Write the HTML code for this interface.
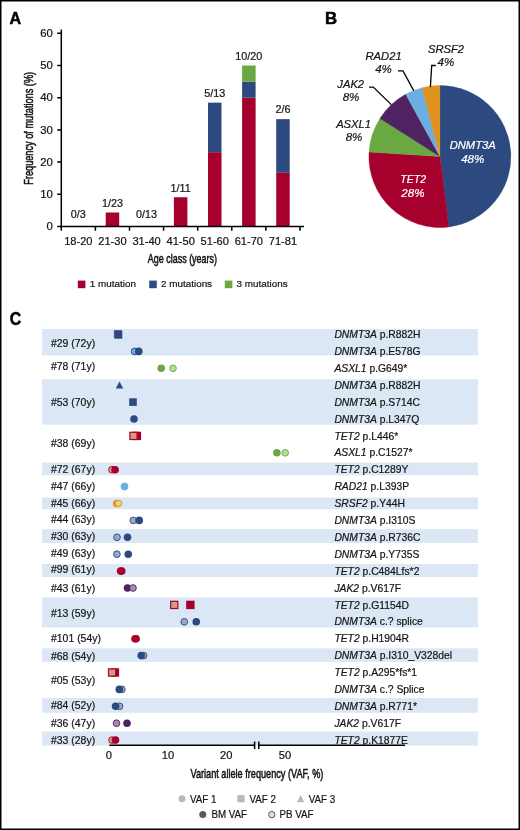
<!DOCTYPE html>
<html lang="en"><head><meta charset="utf-8"><title>Figure</title>
<style>
html,body{margin:0;padding:0;background:#fff;}
body{width:520px;height:830px;overflow:hidden;}
svg{display:block;font-family:"Liberation Sans",Arial,Helvetica,sans-serif;}
text{fill:#151515;stroke:#151515;stroke-width:0.2px;}
.pl{font-size:16.8px;font-weight:bold;fill:#000;stroke:#000;stroke-width:0.5px;}
.t{font-size:10px;}
.s{font-size:9.7px;}
.m{font-size:10px;}
.b{font-size:10.2px;}
.n{font-size:13px;stroke-width:0.55px;}
.c{text-anchor:middle;}
.e{text-anchor:end;}
.i{font-style:italic;}
.w{fill:#fff;stroke:#fff;}
.pie{font-size:10.5px;font-style:italic;text-anchor:middle;}
.ax{stroke:#000;stroke-width:1.5;fill:none;}
.ld{stroke:#000;stroke-width:1.3;fill:none;}
</style></head><body>
<svg width="520" height="830" viewBox="0 0 520 830">
<rect x="0" y="0" width="520" height="830" fill="#fff"/>

<text class="pl" transform="translate(9.60 23.50) scale(0.96 1)">A</text>
<rect x="105.70" y="212.49" width="13.5" height="14.01" fill="#a6002c"/>
<rect x="173.90" y="197.23" width="13.5" height="29.27" fill="#a6002c"/>
<rect x="208.00" y="152.18" width="13.5" height="74.32" fill="#a6002c"/>
<rect x="208.00" y="102.66" width="13.5" height="49.52" fill="#2c4a80"/>
<rect x="242.10" y="97.70" width="13.5" height="128.80" fill="#a6002c"/>
<rect x="242.10" y="81.60" width="13.5" height="16.10" fill="#2c4a80"/>
<rect x="242.10" y="65.50" width="13.5" height="16.10" fill="#6aa842"/>
<rect x="276.20" y="172.82" width="13.5" height="53.68" fill="#a6002c"/>
<rect x="276.20" y="119.15" width="13.5" height="53.68" fill="#2c4a80"/>
<path class="ax" d="M61.3 29.4V226.5H304"/>
<path class="ax" d="M57.2 226.50H61.3M57.2 194.30H61.3M57.2 162.10H61.3M57.2 129.90H61.3M57.2 97.70H61.3M57.2 65.50H61.3M57.2 33.30H61.3M61.30 226.5V230.8M95.40 226.5V230.8M129.50 226.5V230.8M163.60 226.5V230.8M197.70 226.5V230.8M231.80 226.5V230.8M265.90 226.5V230.8M300.00 226.5V230.8"/>
<text class="t e" transform="translate(52.90 230.10) scale(1.14 1)">0</text>
<text class="t e" transform="translate(52.90 197.90) scale(1.14 1)">10</text>
<text class="t e" transform="translate(52.90 165.70) scale(1.14 1)">20</text>
<text class="t e" transform="translate(52.90 133.50) scale(1.14 1)">30</text>
<text class="t e" transform="translate(52.90 101.30) scale(1.14 1)">40</text>
<text class="t e" transform="translate(52.90 69.10) scale(1.14 1)">50</text>
<text class="t e" transform="translate(52.90 36.90) scale(1.14 1)">60</text>
<text class="t c" transform="translate(78.35 245.00) scale(1.11 1)">18-20</text>
<text class="t c" transform="translate(112.45 245.00) scale(1.11 1)">21-30</text>
<text class="t c" transform="translate(146.55 245.00) scale(1.11 1)">31-40</text>
<text class="t c" transform="translate(180.65 245.00) scale(1.11 1)">41-50</text>
<text class="t c" transform="translate(214.75 245.00) scale(1.11 1)">51-60</text>
<text class="t c" transform="translate(248.85 245.00) scale(1.11 1)">61-70</text>
<text class="t c" transform="translate(282.95 245.00) scale(1.11 1)">71-81</text>
<text class="t c" transform="translate(78.35 218.00) scale(1.08 1)">0/3</text>
<text class="t c" transform="translate(112.45 207.20) scale(1.08 1)">1/23</text>
<text class="t c" transform="translate(146.55 218.00) scale(1.08 1)">0/13</text>
<text class="t c" transform="translate(180.65 192.20) scale(1.08 1)">1/11</text>
<text class="t c" transform="translate(214.75 96.90) scale(1.08 1)">5/13</text>
<text class="t c" transform="translate(248.85 60.00) scale(1.08 1)">10/20</text>
<text class="t c" transform="translate(282.95 113.20) scale(1.08 1)">2/6</text>
<text class="n c" transform="translate(33.10 128.30) rotate(-90) scale(0.708 1)">Frequency of mutations (%)</text>
<text class="n c" transform="translate(182.40 262.60) scale(0.69 1)">Age class (years)</text>
<rect x="77.8" y="280.6" width="7.6" height="7.6" fill="#a6002c"/>
<text class="s" transform="translate(89.80 287.30) scale(1.02 1)">1 mutation</text>
<rect x="149.2" y="280.6" width="7.6" height="7.6" fill="#2c4a80"/>
<text class="s" transform="translate(161.00 287.30) scale(1.02 1)">2 mutations</text>
<rect x="224.8" y="280.6" width="7.6" height="7.6" fill="#6aa842"/>
<text class="s" transform="translate(236.60 287.30) scale(1.02 1)">3 mutations</text>
<text class="pl" transform="translate(324.90 23.50)">B</text>
<path d="M439.9 156.5L439.90 85.50A71.0 71.0 0 0 1 448.80 226.94Z" fill="#2c4a80" stroke="#2c4a80" stroke-width="0.4"/>
<path d="M439.9 156.5L448.80 226.94A71.0 71.0 0 0 1 369.04 152.04Z" fill="#a6002c" stroke="#a6002c" stroke-width="0.4"/>
<path d="M439.9 156.5L369.04 152.04A71.0 71.0 0 0 1 379.95 118.46Z" fill="#6aa842" stroke="#6aa842" stroke-width="0.4"/>
<path d="M439.9 156.5L379.95 118.46A71.0 71.0 0 0 1 405.70 94.28Z" fill="#4f2261" stroke="#4f2261" stroke-width="0.4"/>
<path d="M439.9 156.5L405.70 94.28A71.0 71.0 0 0 1 422.24 87.73Z" fill="#6caee2" stroke="#6caee2" stroke-width="0.4"/>
<path d="M439.9 156.5L422.24 87.73A71.0 71.0 0 0 1 439.90 85.50Z" fill="#e0921e" stroke="#e0921e" stroke-width="0.4"/>
<path class="ld" d="M435.8 65.5H431.7L430.4 87.1"/>
<path class="ld" d="M398 70.9H403L413.7 90.6"/>
<path class="ld" d="M369 87.1H373.3L391.3 104.6"/>
<text class="pie w" transform="translate(472.70 149.20) scale(1.07 1)">DNMT3A</text>
<text class="pie w" transform="translate(472.70 162.60) scale(1.1 1)">48%</text>
<text class="pie w" transform="translate(413.20 183.20)">TET2</text>
<text class="pie w" transform="translate(412.90 196.90) scale(1.1 1)">28%</text>
<text class="pie" transform="translate(446.00 52.90) scale(1.07 1)">SRSF2</text>
<text class="pie" transform="translate(445.80 65.50) scale(1.1 1)">4%</text>
<text class="pie" transform="translate(383.60 59.60) scale(1.07 1)">RAD21</text>
<text class="pie" transform="translate(383.50 72.50) scale(1.1 1)">4%</text>
<text class="pie" transform="translate(350.70 88.40) scale(1.07 1)">JAK2</text>
<text class="pie" transform="translate(351.00 101.40) scale(1.1 1)">8%</text>
<text class="pie" transform="translate(353.60 128.30) scale(1.07 1)">ASXL1</text>
<text class="pie" transform="translate(354.00 141.20) scale(1.1 1)">8%</text>
<text class="pl" style="font-size:17.6px" transform="translate(9.70 325.10) scale(0.9 1)">C</text>
<rect x="42" y="328.9" width="436" height="26.6" fill="#dce7f6"/>
<rect x="42" y="379.3" width="436" height="45.4" fill="#dce7f6"/>
<rect x="42" y="462.6" width="436" height="12.7" fill="#dce7f6"/>
<rect x="42" y="497.5" width="436" height="11.8" fill="#dce7f6"/>
<rect x="42" y="529.2" width="436" height="13.8" fill="#dce7f6"/>
<rect x="42" y="564" width="436" height="13.0" fill="#dce7f6"/>
<rect x="42" y="597.3" width="436" height="30.2" fill="#dce7f6"/>
<rect x="42" y="648.3" width="436" height="13.5" fill="#dce7f6"/>
<rect x="42" y="698.1" width="436" height="14.7" fill="#dce7f6"/>
<rect x="42" y="731.5" width="436" height="14.1" fill="#dce7f6"/>
<text class="m" transform="translate(51.00 346.60) scale(1.045 1)">#29 (72y)</text>
<text class="m" transform="translate(51.00 369.80) scale(1.045 1)">#78 (71y)</text>
<text class="m" transform="translate(51.00 406.40) scale(1.045 1)">#53 (70y)</text>
<text class="m" transform="translate(51.00 447.40) scale(1.045 1)">#38 (69y)</text>
<text class="m" transform="translate(51.00 472.60) scale(1.045 1)">#72 (67y)</text>
<text class="m" transform="translate(51.00 489.90) scale(1.045 1)">#47 (66y)</text>
<text class="m" transform="translate(51.00 506.50) scale(1.045 1)">#45 (66y)</text>
<text class="m" transform="translate(51.00 523.30) scale(1.045 1)">#44 (63y)</text>
<text class="m" transform="translate(51.00 540.10) scale(1.045 1)">#30 (63y)</text>
<text class="m" transform="translate(51.00 557.10) scale(1.045 1)">#49 (63y)</text>
<text class="m" transform="translate(51.00 572.70) scale(1.045 1)">#99 (61y)</text>
<text class="m" transform="translate(51.00 592.30) scale(1.045 1)">#43 (61y)</text>
<text class="m" transform="translate(51.00 617.10) scale(1.045 1)">#13 (59y)</text>
<text class="m" transform="translate(51.00 642.30) scale(1.045 1)">#101 (54y)</text>
<text class="m" transform="translate(51.00 659.90) scale(1.045 1)">#68 (54y)</text>
<text class="m" transform="translate(51.00 684.30) scale(1.045 1)">#05 (53y)</text>
<text class="m" transform="translate(51.00 708.90) scale(1.045 1)">#84 (52y)</text>
<text class="m" transform="translate(51.00 726.90) scale(1.045 1)">#36 (47y)</text>
<text class="m" transform="translate(51.00 743.90) scale(1.045 1)">#33 (28y)</text>
<text class="m" transform="translate(334.40 338.10) scale(1.035 1)"><tspan class="i">DNMT3A</tspan> p.R882H</text>
<text class="m" transform="translate(334.40 355.00) scale(1.035 1)"><tspan class="i">DNMT3A</tspan> p.E578G</text>
<text class="m" transform="translate(334.40 371.90) scale(1.035 1)"><tspan class="i">ASXL1</tspan> p.G649*</text>
<text class="m" transform="translate(334.40 388.80) scale(1.035 1)"><tspan class="i">DNMT3A</tspan> p.R882H</text>
<text class="m" transform="translate(334.40 405.70) scale(1.035 1)"><tspan class="i">DNMT3A</tspan> p.S714C</text>
<text class="m" transform="translate(334.40 422.60) scale(1.035 1)"><tspan class="i">DNMT3A</tspan> p.L347Q</text>
<text class="m" transform="translate(334.40 439.50) scale(1.035 1)"><tspan class="i">TET2</tspan> p.L446*</text>
<text class="m" transform="translate(334.40 456.40) scale(1.035 1)"><tspan class="i">ASXL1</tspan> p.C1527*</text>
<text class="m" transform="translate(334.40 473.30) scale(1.035 1)"><tspan class="i">TET2</tspan> p.C1289Y</text>
<text class="m" transform="translate(334.40 490.20) scale(1.035 1)"><tspan class="i">RAD21</tspan> p.L393P</text>
<text class="m" transform="translate(334.40 507.10) scale(1.035 1)"><tspan class="i">SRSF2</tspan> p.Y44H</text>
<text class="m" transform="translate(334.40 524.00) scale(1.035 1)"><tspan class="i">DNMT3A</tspan> p.I310S</text>
<text class="m" transform="translate(334.40 540.90) scale(1.035 1)"><tspan class="i">DNMT3A</tspan> p.R736C</text>
<text class="m" transform="translate(334.40 557.80) scale(1.035 1)"><tspan class="i">DNMT3A</tspan> p.Y735S</text>
<text class="m" transform="translate(334.40 574.70) scale(1.035 1)"><tspan class="i">TET2</tspan> p.C484Lfs*2</text>
<text class="m" transform="translate(334.40 591.60) scale(1.035 1)"><tspan class="i">JAK2</tspan> p.V617F</text>
<text class="m" transform="translate(334.40 608.50) scale(1.035 1)"><tspan class="i">TET2</tspan> p.G1154D</text>
<text class="m" transform="translate(334.40 625.40) scale(1.035 1)"><tspan class="i">DNMT3A</tspan> c.? splice</text>
<text class="m" transform="translate(334.40 642.30) scale(1.035 1)"><tspan class="i">TET2</tspan> p.H1904R</text>
<text class="m" transform="translate(334.40 659.20) scale(1.035 1)"><tspan class="i">DNMT3A</tspan> p.I310_V328del</text>
<text class="m" transform="translate(334.40 676.10) scale(1.035 1)"><tspan class="i">TET2</tspan> p.A295*fs*1</text>
<text class="m" transform="translate(334.40 693.00) scale(1.035 1)"><tspan class="i">DNMT3A</tspan> c.? Splice</text>
<text class="m" transform="translate(334.40 709.90) scale(1.035 1)"><tspan class="i">DNMT3A</tspan> p.R771*</text>
<text class="m" transform="translate(334.40 726.80) scale(1.035 1)"><tspan class="i">JAK2</tspan> p.V617F</text>
<text class="m" transform="translate(334.40 743.70) scale(1.035 1)"><tspan class="i">TET2</tspan> p.K1877E</text>
<rect x="113.9" y="330.00" width="8" height="8" fill="#4a69a0"/>
<rect x="114.6" y="330.80" width="7.7" height="7.9" fill="#2c4a80"/>
<circle cx="134.6" cy="351.40" r="3.35" fill="#70afe8" stroke="#2c4a80" stroke-width="1"/>
<circle cx="138.75" cy="351.40" r="3.8" fill="#2c4a80"/>
<circle cx="161.25" cy="368.30" r="3.8" fill="#6aa842"/>
<circle cx="173" cy="368.30" r="3.35" fill="#b9d8a0" stroke="#6aa842" stroke-width="0.9"/>
<path d="M119.5 381.60L123.2 388.60H115.8Z" fill="#2c4a80"/>
<rect x="129.20" y="398.30" width="7.6" height="7.6" fill="#2c4a80"/>
<circle cx="134" cy="419.00" r="3.8" fill="#2c4a80"/>
<rect x="132.70" y="431.70" width="8.4" height="8.4" fill="#a6002c"/>
<rect x="129.90" y="432.30" width="7.20" height="7.20" fill="#d99a85" stroke="#a6002c" stroke-width="1.2"/>
<circle cx="276.9" cy="452.80" r="3.8" fill="#6aa842"/>
<circle cx="285.2" cy="452.80" r="3.35" fill="#b9d8a0" stroke="#6aa842" stroke-width="0.9"/>
<circle cx="112" cy="469.70" r="3.35" fill="#d99a85" stroke="#a6002c" stroke-width="0.9"/>
<circle cx="115.1" cy="469.70" r="3.8" fill="#a6002c"/>
<circle cx="124.5" cy="486.60" r="3.8" fill="#6caee2"/>
<circle cx="116.75" cy="503.50" r="3.8" fill="#e0921e"/>
<circle cx="118.6" cy="503.50" r="3.35" fill="#f4cb8e" stroke="#e0921e" stroke-width="0.9"/>
<circle cx="133.25" cy="520.40" r="3.35" fill="#9ca5c8" stroke="#2c4a80" stroke-width="0.9"/>
<circle cx="139.25" cy="520.40" r="3.8" fill="#2c4a80"/>
<circle cx="117" cy="537.30" r="3.35" fill="#9ca5c8" stroke="#2c4a80" stroke-width="0.9"/>
<circle cx="127.5" cy="537.30" r="3.8" fill="#2c4a80"/>
<circle cx="116.9" cy="554.20" r="3.35" fill="#9ca5c8" stroke="#2c4a80" stroke-width="0.9"/>
<circle cx="128.25" cy="554.20" r="3.8" fill="#2c4a80"/>
<circle cx="120.6" cy="571.10" r="3.8" fill="#a6002c"/>
<circle cx="121.75" cy="571.10" r="3.8" fill="#a6002c"/>
<circle cx="127.5" cy="588.00" r="3.8" fill="#4f2261"/>
<circle cx="133" cy="588.00" r="3.35" fill="#a68ab6" stroke="#4f2261" stroke-width="0.9"/>
<rect x="170.65" y="601.30" width="7.20" height="7.20" fill="#d99a85" stroke="#a6002c" stroke-width="1.2"/>
<rect x="186.20" y="600.70" width="8.4" height="8.4" fill="#a6002c"/>
<circle cx="184.25" cy="621.80" r="3.35" fill="#9ca5c8" stroke="#2c4a80" stroke-width="0.9"/>
<circle cx="196.25" cy="621.80" r="3.8" fill="#2c4a80"/>
<circle cx="135.0" cy="638.70" r="3.8" fill="#a6002c"/>
<circle cx="136.1" cy="638.70" r="3.8" fill="#a6002c"/>
<circle cx="143.6" cy="655.60" r="3.35" fill="#9ca5c8" stroke="#2c4a80" stroke-width="0.9"/>
<circle cx="141.2" cy="655.60" r="3.8" fill="#2c4a80"/>
<rect x="110.70" y="668.30" width="8.4" height="8.4" fill="#a6002c"/>
<rect x="108.50" y="668.90" width="7.20" height="7.20" fill="#d99a85" stroke="#a6002c" stroke-width="1.2"/>
<circle cx="121.9" cy="689.40" r="3.35" fill="#9ca5c8" stroke="#2c4a80" stroke-width="0.9"/>
<circle cx="119.3" cy="689.40" r="3.8" fill="#2c4a80"/>
<circle cx="119.6" cy="706.30" r="3.35" fill="#9ca5c8" stroke="#2c4a80" stroke-width="0.9"/>
<circle cx="115.6" cy="706.30" r="3.8" fill="#2c4a80"/>
<circle cx="116.5" cy="723.20" r="3.35" fill="#a68ab6" stroke="#4f2261" stroke-width="0.9"/>
<circle cx="127" cy="723.20" r="3.8" fill="#4f2261"/>
<circle cx="112" cy="740.10" r="3.35" fill="#d99a85" stroke="#a6002c" stroke-width="0.9"/>
<circle cx="115.5" cy="740.10" r="3.8" fill="#a6002c"/>
<path class="ax" d="M109.3 745.2H254.6M258.8 745.2H405M254.6 741.5V749M258.8 741.5V749"/>
<text class="t c" transform="translate(108.80 759.20) scale(1.12 1)">0</text>
<text class="t c" transform="translate(168.00 759.20) scale(1.12 1)">10</text>
<text class="t c" transform="translate(226.20 759.20) scale(1.12 1)">20</text>
<text class="t c" transform="translate(285.00 759.20) scale(1.12 1)">50</text>
<text class="n c" transform="translate(256.90 777.60) scale(0.704 1)">Variant allele frequency (VAF, %)</text>
<circle cx="182" cy="798.8" r="3.5" fill="#b9b9b9"/>
<text class="b" transform="translate(190.00 802.50) scale(0.96 1)">VAF 1</text>
<rect x="237.4" y="795.1" width="7.2" height="7.2" fill="#b9b9b9"/>
<text class="b" transform="translate(249.40 802.50) scale(0.96 1)">VAF 2</text>
<path d="M300.6 795L304.3 802.3H296.9Z" fill="#b9b9b9"/>
<text class="b" transform="translate(308.70 802.50) scale(0.96 1)">VAF 3</text>
<circle cx="202.8" cy="814.6" r="3.5" fill="#58585a"/>
<text class="b" transform="translate(211.40 818.30) scale(0.96 1)">BM VAF</text>
<circle cx="271.8" cy="814.6" r="3.2" fill="#dedede" stroke="#58585a" stroke-width="1"/>
<text class="b" transform="translate(279.50 818.30) scale(0.96 1)">PB VAF</text>
<rect x="0.75" y="0.75" width="518.5" height="828.5" fill="none" stroke="#000" stroke-width="1.5"/>
</svg>
</body></html>
